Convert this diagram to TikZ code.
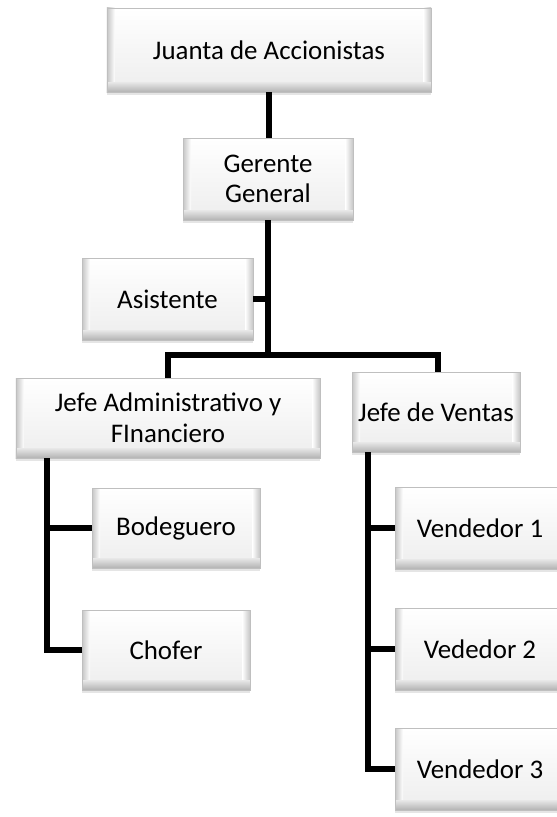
\documentclass[tikz,border=0pt]{standalone}
\usepackage{fontspec}
\setmainfont{Carlito}
\usetikzlibrary{shadows}
\newfontfamily\boxfamily{Carlito}
\newcommand{\boxfont}{\boxfamily\fontsize{27}{31}\selectfont}
\tikzset{
  box/.style={rectangle, minimum height=80bp, inner sep=2bp, align=center,
    font=\boxfont, draw=gray!50, line width=0.4pt, fill=white,
    drop shadow={opacity=0.2, shadow xshift=0bp, shadow yshift=-3bp},
    path picture={
      \shade[top color=white, bottom color=gray!14]
        (path picture bounding box.north west) rectangle (path picture bounding box.south east);
      \shade[left color=gray!45, right color=white]
        (path picture bounding box.north west) rectangle ([xshift=8bp]path picture bounding box.south west);
      \shade[left color=white, right color=gray!45]
        ([xshift=-8bp]path picture bounding box.north east) rectangle (path picture bounding box.south east);
      \shade[top color=gray!18, bottom color=gray!60]
        ([yshift=10bp]path picture bounding box.south west) rectangle (path picture bounding box.south east);
    }},
  link/.style={line width=5.5bp, black, line join=miter}
}
\begin{document}
\begin{tikzpicture}[x=1bp, y=-1bp]
\clip (0,0) rectangle (557,817);
\fill[white] (0,0) rectangle (557,817);
\node[box, minimum width=324bp, minimum height=84bp] (jta) at (269,50) {Juanta de Accionistas};
\node[box, minimum width=170bp, minimum height=82bp] (gg) at (268,179) {Gerente\\[-1bp]General};
\node[box, minimum width=171bp, minimum height=82bp] (asis) at (167.5,299) {Asistente};
\node[box, minimum width=304bp] (jadm) at (168,418) {Jefe Administrativo y\\FInanciero};
\node[box, minimum width=168bp] (jv) at (436,412) {Jefe de Ventas};
\node[box, minimum width=168bp] (bod) at (176,528) {Bodeguero};
\node[box, minimum width=168bp] (cho) at (166,650) {Chofer};
\node[box, minimum width=170bp, minimum height=82bp] (v1) at (480,528) {Vendedor 1};
\node[box, minimum width=170bp, minimum height=82bp] (v2) at (480,649) {Vededor 2};
\node[box, minimum width=170bp, minimum height=82bp] (v3) at (480,769) {Vendedor 3};
\coordinate (bar) at (268,355);
\coordinate (lt) at ([xshift=31bp]jadm.south west);
\coordinate (rt) at ([xshift=16bp]jv.south west);
\draw[link] (jta.south) -- (jta.south |- gg.north);
\draw[link] (gg.south) -- (bar);
\draw[link] (asis.east) -- (asis.east -| bar);
\draw[link] (jadm.north) |- (bar) -| ([xshift=2bp]jv.north);
\draw[link] (lt) |- (bod.west);
\draw[link] (lt) |- (cho.west);
\draw[link] (rt) |- (v1.west);
\draw[link] (rt) |- (v2.west);
\draw[link] (rt) |- (v3.west);
\end{tikzpicture}
\end{document}
